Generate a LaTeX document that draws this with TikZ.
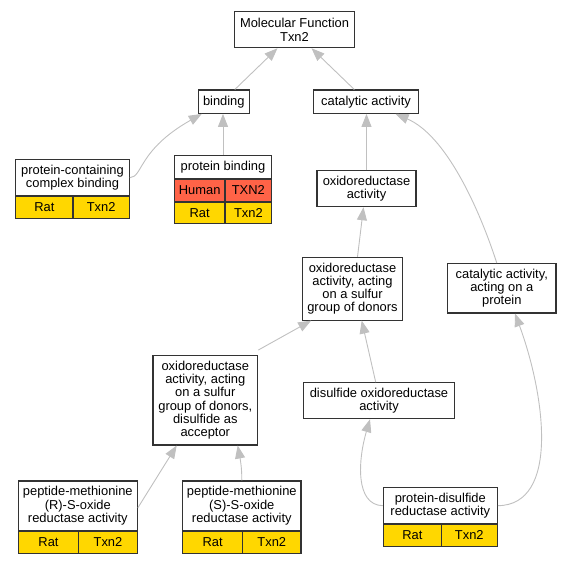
\documentclass[tikz,border=0pt]{standalone}
\usepackage{fontspec}
\setmainfont{Liberation Sans}
\usepackage{tikz}
\usetikzlibrary{arrows.meta}
\definecolor{edgegray}{HTML}{C0C0C0}
\definecolor{ratgold}{HTML}{FFD700}
\definecolor{humanred}{HTML}{FF6347}
\newcommand{\termfont}{\fontsize{12.9bp}{13.3bp}\selectfont}
\tikzset{
  term/.style={draw=black!80, line width=1.1bp, fill=white, align=center, inner sep=0pt, font=\termfont},
  cell/.style={draw=black!80, line width=1.1bp, inner sep=0pt, minimum height=21.3bp, font=\termfont},
  isa/.style={draw=edgegray, line width=0.9bp, -{Triangle[length=13bp,width=10bp]}},
}

\begin{document}
\begin{tikzpicture}[x=1bp, y=-1bp]
    \useasboundingbox (0,0) rectangle (571,563);
    % terms
    \node[term, minimum width=120.4bp, minimum height=36bp] (mf) at (294.5,29.7) {Molecular Function\\Txn2};
    \node[term, minimum width=51bp, minimum height=23.3bp] (bind) at (223.8,101.7) {binding};
    \node[term, minimum width=105.4bp, minimum height=23.3bp] (cat) at (366,101.7) {catalytic activity};
    \node[term, minimum width=113.6bp, minimum height=36bp] (pcb) at (72.5,177.7) {protein-containing\\complex binding};
    \node[term, minimum width=97.4bp, minimum height=23bp] (pb) at (223,166.8) {protein binding};
    \node[term, minimum width=99bp, minimum height=36bp] (oxr) at (366.5,188.7) {oxidoreductase\\activity};
    \node[term, minimum width=100.4bp, minimum height=62.7bp] (sulf) at (352.5,288.7) {oxidoreductase\\activity, acting\\on a sulfur\\group of donors};
    \node[term, minimum width=108.3bp, minimum height=49.3bp] (catp) at (501.8,288.3) {catalytic activity,\\acting on a\\protein};
    \node[term, minimum width=104.7bp, minimum height=89.3bp] (acc) at (205.3,400.3) {oxidoreductase\\activity, acting\\on a sulfur\\group of donors,\\disulfide as\\acceptor};
    \node[term, minimum width=150.6bp, minimum height=36bp] (dox) at (379,400.7) {disulfide oxidoreductase\\activity};
    \node[term, minimum width=119bp, minimum height=49.7bp] (pmr) at (77.8,505.8) {peptide-methionine\\(R)-S-oxide\\reductase activity};
    \node[term, minimum width=118.3bp, minimum height=49.7bp] (pms) at (241.8,505.8) {peptide-methionine\\(S)-S-oxide\\reductase activity};
    \node[term, minimum width=114bp, minimum height=36bp] (pdr) at (440.3,505.7) {protein-disulfide\\reductase activity};

    % species rows
    \node[cell, fill=ratgold, minimum width=57.3bp, anchor=north west] (pcb-sp) at (pcb.south west) {Rat};
    \node[cell, fill=ratgold, minimum width=56.3bp, anchor=north east] (pcb-g) at (pcb.south east) {Txn2};
    \node[cell, fill=humanred, minimum width=50.7bp, minimum height=21.7bp, anchor=north west] (pb-hs) at (pb.south west) {Human};
    \node[cell, fill=humanred, minimum width=46.7bp, minimum height=21.7bp, anchor=north east] (pb-hg) at (pb.south east) {TXN2};
    \node[cell, fill=ratgold, minimum width=50.7bp, minimum height=21bp, anchor=north west] (pb-sp) at (pb-hs.south west) {Rat};
    \node[cell, fill=ratgold, minimum width=46.7bp, minimum height=21bp, anchor=north east] (pb-g) at (pb-hg.south east) {Txn2};
    \node[cell, fill=ratgold, minimum width=60.4bp, anchor=north west] (pmr-sp) at (pmr.south west) {Rat};
    \node[cell, fill=ratgold, minimum width=58.6bp, anchor=north east] (pmr-g) at (pmr.south east) {Txn2};
    \node[cell, fill=ratgold, minimum width=60bp, anchor=north west] (pms-sp) at (pms.south west) {Rat};
    \node[cell, fill=ratgold, minimum width=58.3bp, anchor=north east] (pms-g) at (pms.south east) {Txn2};
    \node[cell, fill=ratgold, minimum width=58bp, anchor=north west] (pdr-sp) at (pdr.south west) {Rat};
    \node[cell, fill=ratgold, minimum width=56bp, anchor=north east] (pdr-g) at (pdr.south east) {Txn2};

    % is_a edges
    \draw[isa] ([xshift=11bp]bind.north) -- ([xshift=-17bp]mf.south);
    \draw[isa] ([xshift=-11.7bp]cat.north) -- ([xshift=17bp]mf.south);
    \draw[isa] (pb.north) -- (pb.north |- bind.south);
    \draw[isa] (pcb.east) .. controls (143,177) and (138,150) .. ([xshift=4bp]bind.south west);
    \draw[isa] (oxr.north) -- (oxr.north |- cat.south);
    \draw[isa] ([xshift=-5bp]catp.north) .. controls (478,205) and (445,135) .. ([xshift=-23.7bp]cat.south east);
    \draw[isa] ([xshift=5bp]sulf.north) -- ([xshift=-3bp]oxr.south);
    \draw[isa] ([yshift=5bp]acc.north east) -- ([xshift=9.4bp]sulf.south west);
    \draw[isa] ([xshift=-3.3bp]dox.north) -- ([xshift=9.2bp]sulf.south);
    \draw[isa] ([yshift=-2bp]pmr.east) -- ([xshift=-28.6bp]acc.south);
    \draw[isa] (pms.north) .. controls (242,468) and (240,458) .. ([xshift=32.4bp]acc.south);
    \draw[isa] (pdr.west) .. controls (355,505) and (358,460) .. ([xshift=-9bp]dox.south);
    \draw[isa] (pdr.east) .. controls (560,505) and (545,395) .. ([xshift=13.2bp]catp.south);
  \end{tikzpicture}
\end{document}
